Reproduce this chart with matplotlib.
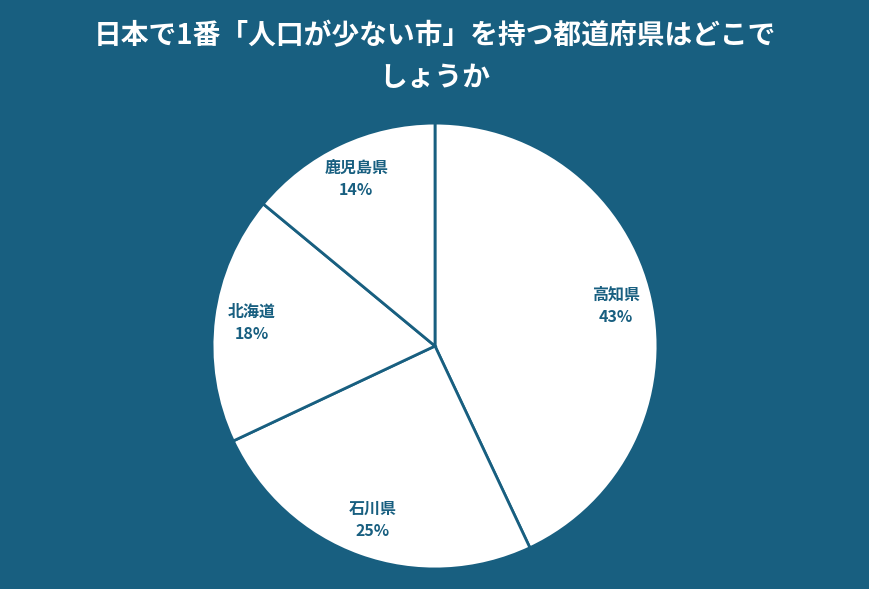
import numpy as np
import matplotlib.pyplot as plt

plt.rcParams['font.family'] = ['Noto Sans CJK JP', 'DejaVu Sans']

# data
labels = ['高知県', '石川県', '北海道', '鹿児島県']
shares = [43, 25, 18, 14]
title = '日本で1番「人口が少ない市」を持つ都道府県はどこで\nしょうか'

bg = '#185f80'

fig = plt.figure(figsize=(8.7, 5.89), dpi=100, facecolor=bg)
ax = fig.add_axes([0.2437, 0.034, 0.5126, 0.757])
ax.set_facecolor(bg)

wedges, _ = ax.pie(shares, startangle=90, counterclock=False, radius=1,
                   colors=['white'] * len(shares),
                   wedgeprops=dict(edgecolor=bg, linewidth=2))

for w, lab, val in zip(wedges, labels, shares):
    ang = np.deg2rad((w.theta1 + w.theta2) / 2)
    x, y = 0.83 * np.cos(ang), 0.83 * np.sin(ang)
    ax.text(x, y, f'{lab}\n{val}%', ha='center', va='center', color=bg,
            fontsize=11.5, fontweight='bold', linespacing=1.45)

ax.set_xlim(-1, 1)
ax.set_ylim(-1, 1)
ax.set_aspect('equal')
ax.axis('off')

fig.text(0.5, 0.903, title, ha='center', va='center', color='white',
         fontsize=20, fontweight='bold', linespacing=1.65)

fig.savefig('out.png', dpi=100, facecolor=bg)
